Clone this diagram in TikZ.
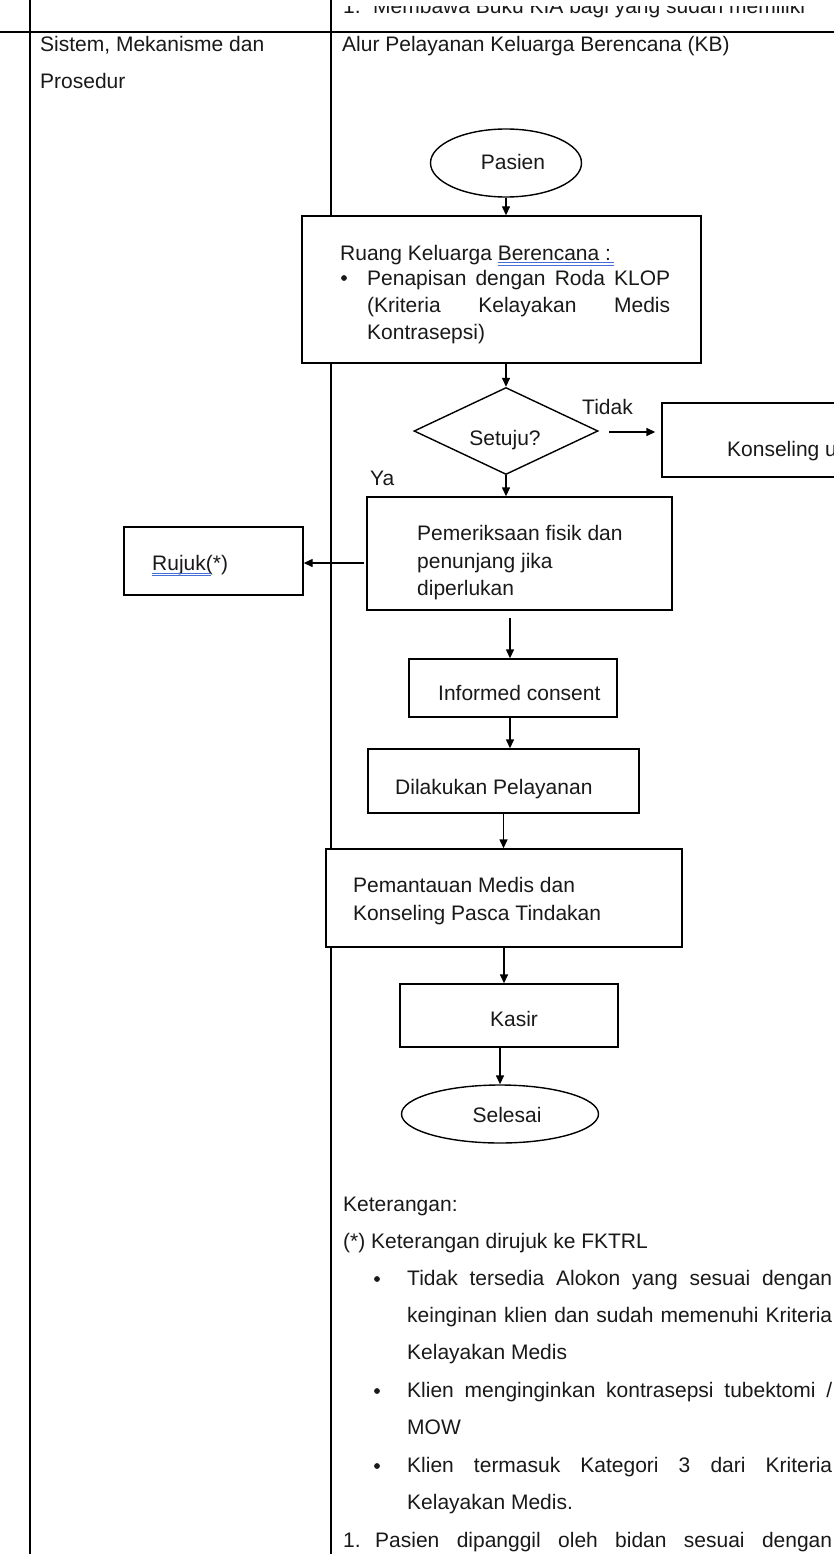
\documentclass[tikz,border=0pt]{standalone}
\usepackage{fontspec}
\setmainfont{Liberation Sans}
\usetikzlibrary{arrows.meta,shapes.geometric}
\definecolor{spellblue}{RGB}{70,110,215}
\definecolor{ink}{RGB}{25,25,25}
\newcommand\myfs{\fontsize{21}{24}\selectfont}
\begin{document}
\begin{tikzpicture}[x=1pt,y=-1pt,
  box/.style={draw,line width=1.4pt,fill=white,inner sep=0pt,rectangle},
  oval/.style={draw,ellipse,line width=1.4pt,fill=white,inner sep=0pt,font=\myfs},
  txt/.style={anchor=base west,inner sep=0pt,font=\myfs,text=ink},
  ctxt/.style={anchor=base,inner sep=0pt,font=\myfs,text=ink},
  arr/.style={line width=1.4pt,-{Triangle[length=9pt,width=8pt]}},
  rule/.style={line width=1.6pt},
  spell/.style={draw=spellblue,line width=0.7pt}]
\useasboundingbox (0,0) rectangle (834,1554);
\clip (0,0) rectangle (834,1554);

% table rules
\draw[rule] (0,32) -- (834,32);
\draw[rule] (30,0) -- (30,1554);
\draw[rule] (331,0) -- (331,1554);

% cut-off text at the top
\begin{scope}
\clip (332,7) rectangle (834,31);
\node[txt] (top1) at (343,14) {1.};
\node[txt] (top2) at (373,14) {Membawa Buku KIA bagi yang sudah memiliki};
\end{scope}

% header cells
\node[txt] (h1) at (40,52) {Sistem, Mekanisme dan};
\node[txt] (h2) at (40,89) {Prosedur};
\node[txt] (h3) at (342,52) {Alur Pelayanan Keluarga Berencana (KB)};

% flowchart shapes
\node[oval, minimum width=151pt, minimum height=68pt] (pasien) at (506,163) {};
\node[ctxt] (pasienT) at (513,170) {Pasien};

\node[box, minimum width=399pt, minimum height=147pt] (ruang) at (501.5,289.5) {};
\node[txt] (r1) at (340,260) {Ruang Keluarga Berencana :};
\draw[spell] (498,262.5) -- (614,262.5);
\draw[spell] (498,265) -- (614,265);
\fill[ink] (344,278) circle (2.9pt);
\node[txt] (r2) at (367,285) {\makebox[303pt][s]{Penapisan dengan Roda KLOP}};
\node[txt] (r3) at (367,312) {\makebox[303pt][s]{(Kriteria Kelayakan Medis}};
\node[txt] (r4) at (367,339) {Kontrasepsi)};

\node[draw, diamond, line width=1.4pt, fill=white, inner sep=0pt,
      minimum width=184pt, minimum height=87pt] (dia) at (506,431) {};
\node[ctxt] (diaT) at (505,445) {Setuju?};
\node[txt] (tidak) at (582,414) {Tidak};
\node[box, minimum width=240pt, minimum height=74pt] (kons) at (782,440) {};
\node[txt] (konsT) at (727,456) {Konseling u};
\node[txt] (ya) at (370,485) {Ya};

\node[box, minimum width=305pt, minimum height=113pt] (pem) at (519.5,553.5) {};
\node[txt] (p1) at (417,540) {Pemeriksaan fisik dan};
\node[txt] (p2) at (417,568) {penunjang jika};
\node[txt] (p3) at (417,595) {diperlukan};

\node[box, minimum width=179pt, minimum height=68pt] (rujuk) at (213.5,561) {};
\node[txt] (rujukT) at (152,570) {Rujuk(*)};
\draw[spell] (152,573) -- (211,573);
\draw[spell] (152,575.5) -- (211,575.5);

\node[box, minimum width=208pt, minimum height=58pt] (inf) at (513,688) {};
\node[txt] (infT) at (438,700) {Informed consent};

\node[box, minimum width=271pt, minimum height=64pt] (dil) at (503.5,781) {};
\node[txt] (dilT) at (395,794) {Dilakukan Pelayanan};

\node[box, minimum width=356pt, minimum height=98pt] (pmt) at (504,898) {};
\node[txt] (m1) at (353,892) {Pemantauan Medis dan};
\node[txt] (m2) at (353,920) {Konseling Pasca Tindakan};

\node[box, minimum width=218pt, minimum height=63pt] (kas) at (509,1015.5) {};
\node[ctxt] (kasT) at (514,1026) {Kasir};

\node[oval, minimum width=197pt, minimum height=58pt] (sel) at (500,1114) {};
\node[ctxt] (selT) at (507,1122) {Selesai};

% connectors
\draw[arr] (pasien.south) -- (pasien.south |- ruang.north);
\draw[arr] (ruang.south -| dia.north) -- (dia.north);
\draw[arr] (dia.south) -- (dia.south |- pem.north);
\coordinate (tA) at (609,432);
\draw[arr] (tA) -- ([xshift=-6pt]tA -| kons.west);
\coordinate (rA) at (364,563);
\draw[arr] (rA) -- (rA -| rujuk.east);
\coordinate (gA) at (510,618);
\draw[arr] (gA) -- (gA |- inf.north);
\draw[arr] (inf.south -| gA) -- (gA |- dil.north);
\draw[arr] (dil.south) -- (dil.south |- pmt.north);
\draw[arr] (pmt.south) -- (pmt.south |- kas.north);
\draw[arr] (kas.south -| sel.north) -- (sel.north);

% notes
\node[txt] (k1) at (343,1211) {Keterangan:};
\node[txt] (k2) at (343,1248) {(*) Keterangan dirujuk ke FKTRL};
\fill[ink] (377,1279) circle (2.9pt);
\node[txt] (b1) at (407,1285) {\makebox[425pt][s]{Tidak tersedia Alokon yang sesuai dengan}};
\node[txt] (b2) at (407,1322) {\makebox[425pt][s]{keinginan klien dan sudah memenuhi Kriteria}};
\node[txt] (b3) at (407,1359) {Kelayakan Medis};
\fill[ink] (377,1391) circle (2.9pt);
\node[txt] (b4) at (407,1397) {\makebox[425pt][s]{Klien menginginkan kontrasepsi tubektomi /}};
\node[txt] (b5) at (407,1434) {MOW};
\fill[ink] (377,1466) circle (2.9pt);
\node[txt] (b6) at (407,1472) {\makebox[425pt][s]{Klien termasuk Kategori 3 dari Kriteria}};
\node[txt] (b7) at (407,1509) {Kelayakan Medis.};
\node[txt] (n1) at (343,1547) {1.};
\node[txt] (n2) at (375,1547) {\makebox[457pt][s]{Pasien dipanggil oleh bidan sesuai dengan}};
\end{tikzpicture}
\end{document}
